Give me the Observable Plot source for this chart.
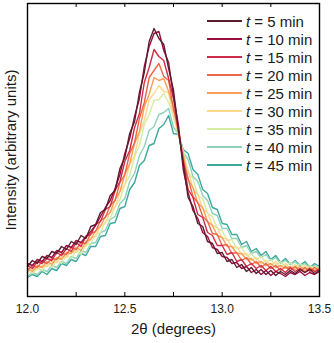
<!DOCTYPE html>
<html><head><meta charset="utf-8">
<script src="https://cdn.jsdelivr.net/npm/d3@7"></script>
<script src="https://cdn.jsdelivr.net/npm/@observablehq/plot@0.6"></script>
<style>
body{margin:0;background:#fff;font-family:Arial,"Liberation Sans",sans-serif}
#wrap{position:relative;width:334px;height:343px}
#legend{position:absolute;left:207px;top:12px}
.row{display:flex;align-items:center;height:18px;font-size:15px;color:#1a1a1a;white-space:nowrap}
.row svg{margin-right:4px;display:block}
</style></head><body><div id="wrap"><div id="legend"></div></div>
<script>
const times = [5,10,15,20,25,30,35,40,45];
const colors = ["#5a1d2e","#9b0d3d","#cf2d47","#ee6648","#fb9d58","#fed98c","#d5eca2","#8fd1bb","#3fa89c"];
const twoTheta = [12.000,12.025,12.050,12.075,12.100,12.125,12.150,12.175,12.200,12.225,
 12.250,12.275,12.300,12.325,12.350,12.375,12.400,12.425,12.450,12.475,
 12.500,12.525,12.550,12.575,12.600,12.625,12.650,12.675,12.700,12.725,
 12.750,12.775,12.800,12.825,12.850,12.875,12.900,12.925,12.950,12.975,
 13.000,13.025,13.050,13.075,13.100,13.125,13.150,13.175,13.200,13.225,
 13.250,13.275,13.300,13.325,13.350,13.375,13.400,13.425,13.450,13.475,13.500];
const t5 = [30,36,33,40,38,45,43,50,47,55, 52,61,58,70,72,84,87,101,106,128, 139,163,175,204,224,255,268,258,252,228, 206,167,133,99,90,73,70,55,53,43, 44,35,37,29,32,25,29,23,27,22, 26,21,25,22,26,23,27,24,27,23,26];
const t10 = [33,31,37,35,41,39,46,44,51,49, 56,54,60,65,71,80,89,96,108,122, 143,158,180,198,230,250,263,265,246,234, 200,172,127,104,86,78,64,60,49,47, 40,39,33,34,28,30,24,27,22,26, 21,25,23,20,24,22,25,21,24,22,25];
const t15 = [31,28,35,33,38,36,44,41,48,45, 54,50,60,62,72,75,87,90,106,115, 135,146,169,183,214,229,247,240,236,218, 198,165,137,107,99,82,79,64,61,51, 51,42,44,35,37,30,33,28,31,26, 30,25,28,24,29,25,28,24,28,25,27];
const t20 = [26,31,29,35,33,38,37,43,42,49, 47,54,53,63,65,76,79,91,96,114, 122,143,154,178,194,219,226,233,220,216, 187,169,134,118,100,94,80,75,63,62, 51,52,43,44,36,39,32,35,29,33, 28,31,26,30,26,30,25,29,25,29,26];
const t25 = [28,25,31,29,35,32,39,37,44,43, 49,46,55,57,66,70,80,84,97,105, 122,133,153,165,190,202,219,216,218,205, 189,163,142,117,109,93,89,75,71,61, 59,50,50,43,43,37,38,33,35,31, 33,29,31,28,30,27,30,26,29,26,28];
const t30 = [24,28,27,31,30,35,34,40,39,45, 44,50,50,59,60,71,73,85,89,105, 112,132,141,163,176,197,203,211,205,204, 180,167,138,126,108,102,88,84,71,69, 58,58,49,50,42,43,36,39,33,36, 31,35,29,33,28,32,27,31,26,30,27];
const t35 = [26,23,28,26,32,29,36,33,41,38, 46,42,52,53,62,64,75,78,90,97, 112,121,140,151,172,182,196,197,203,194, 181,160,146,124,118,101,98,83,80,68, 66,56,57,48,49,41,43,37,40,34, 37,32,35,30,34,29,33,28,31,27,30];
const t40 = [20,24,22,27,25,31,29,35,33,40, 38,46,44,53,54,64,66,77,80,93, 98,115,123,141,150,166,170,182,184,188, 169,163,144,137,120,115,101,96,83,81, 68,68,58,58,49,51,43,45,39,42, 36,39,33,36,32,35,30,33,29,31,28];
const t45 = [19,22,20,25,22,28,26,33,31,37, 35,43,41,50,50,60,61,73,74,88, 90,107,114,131,136,151,153,168,172,181, 163,162,147,143,127,122,107,103,89,87, 73,72,62,62,52,55,45,48,41,45, 37,41,34,38,32,36,31,35,29,33,30];
const xTickLabels = [12.0,12.5,13.0,13.5];
const xMinorTicks = [12.25,12.5,12.75,13.0,13.25];

const seriesList = [t5,t10,t15,t20,t25,t30,t35,t40,t45];
const labels = times.map(t => `t = ${t} min`);
const rows = [];
for (let k = seriesList.length - 1; k >= 0; k--) {
  seriesList[k].forEach((v, i) => rows.push({x: twoTheta[i], y: v, s: labels[k]}));
}

const chart = Plot.plot({
  width: 334, height: 343,
  marginLeft: 27, marginRight: 15, marginTop: 3, marginBottom: 47,
  style: {fontFamily: "Arial, 'Liberation Sans', sans-serif", color: "#1a1a1a", background: "#fff"},
  x: {domain: [12, 13.5]},
  y: {domain: [0, 293], axis: null},
  color: {domain: labels, range: colors},
  marks: [
    Plot.line(rows, {x: "x", y: "y", z: "s", stroke: "s", strokeWidth: 1.4}),
    Plot.ruleX(xMinorTicks, {y1: 0, y2: 4, stroke: "#000", strokeWidth: 1}),
    Plot.ruleX(xMinorTicks, {y1: 289, y2: 293, stroke: "#000", strokeWidth: 1}),
    Plot.frame({stroke: "#000", strokeWidth: 1.4}),
    Plot.axisX({ticks: xTickLabels, tickSize: 0, tickPadding: 8, tickFormat: d => d.toFixed(1), fontSize: 12, label: null}),
    Plot.text(["2θ (degrees)"], {frameAnchor: "bottom", dy: 37, text: d => d, fontSize: 15, fill: "#1a1a1a"}),
    Plot.text(["Intensity (arbitrary units)"], {frameAnchor: "left", dx: -16, rotate: -90, textAnchor: "middle", text: d => d, fontSize: 15, fill: "#1a1a1a"})
  ]
});
document.getElementById("wrap").prepend(chart);

const legend = document.getElementById("legend");
times.forEach((t, k) => {
  const row = document.createElement("div");
  row.className = "row";
  row.innerHTML = `<svg width="35" height="4"><line x1="0" x2="35" y1="2" y2="2" stroke="${colors[k]}" stroke-width="2"/></svg><span><i>t</i> = ${t} min</span>`;
  legend.appendChild(row);
});
</script>
</body></html>
